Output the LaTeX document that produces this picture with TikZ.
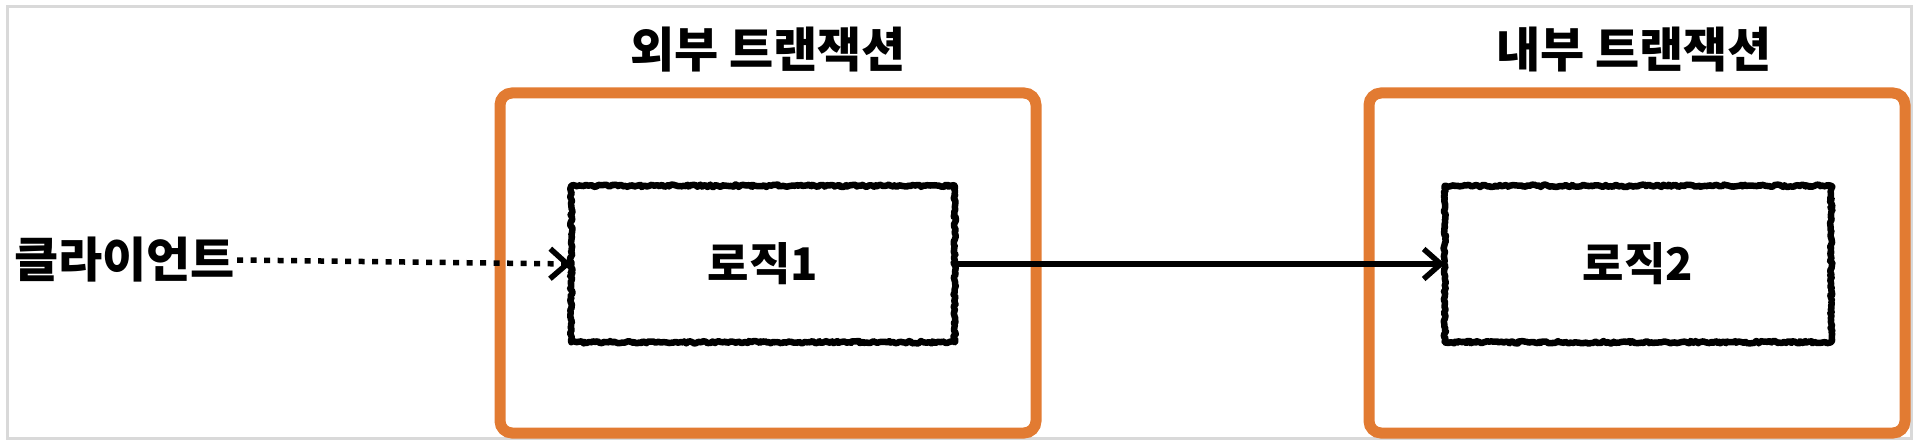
\documentclass[tikz,border=0pt]{standalone}
\usepackage{fontspec}
\setmainfont{Noto Sans CJK KR}
\usetikzlibrary{arrows.meta,decorations.pathmorphing}
\definecolor{txorange}{RGB}{226,123,50}
\definecolor{framegray}{RGB}{217,217,217}
\tikzset{
  txbox/.style={draw=txorange, line width=11pt, rounded corners=12pt, inner sep=0pt},
  logicbox/.style={inner sep=0pt, font=\bfseries\fontsize{45}{52}\selectfont},
  sketch/.style={draw=black, line width=6.5pt, line join=round, decorate,
    decoration={random steps, segment length=2pt, amplitude=1.2pt}},
  titletext/.style={font=\bfseries\fontsize{48}{54}\selectfont},
  clienttext/.style={font=\bfseries\fontsize{48}{54}\selectfont, inner sep=2pt},
  flow/.style={line width=5.5pt, -{Straight Barb[length=17pt,width=30pt,line width=5.5pt]}},
  dotflow/.style={flow, dash pattern=on 6pt off 7.5pt}
}
\begin{document}
\begin{tikzpicture}[x=1pt,y=-1pt]
\pgfmathsetseed{7}
\useasboundingbox (0,0) rectangle (1918,446);
\draw[framegray, line width=3pt] (7,7) rectangle (1911,438);

\node[txbox, minimum width=536pt, minimum height=340pt] (ob1) at (768,263) {};
\node[txbox, minimum width=536pt, minimum height=340pt] (ob2) at (1637,263) {};

\node[titletext] (t1) at (768,50) {외부 트랜잭션};
\node[titletext] (t2) at (1634,50) {내부 트랜잭션};

\node[logicbox, minimum width=383pt, minimum height=156pt] (l1) at (763,264) {로직1};
\node[logicbox, minimum width=386pt, minimum height=156pt] (l2) at (1638,264) {로직2};
\draw[sketch] (l1.south west) rectangle (l1.north east);
\draw[sketch] (l2.south west) rectangle (l2.north east);

\node[clienttext, anchor=west] (c) at (12,260) {클라이언트};

\draw[dotflow] (c.east) -- (l1.west);
\draw[flow] (l1.east) -- (l2.west);
\end{tikzpicture}
\end{document}
